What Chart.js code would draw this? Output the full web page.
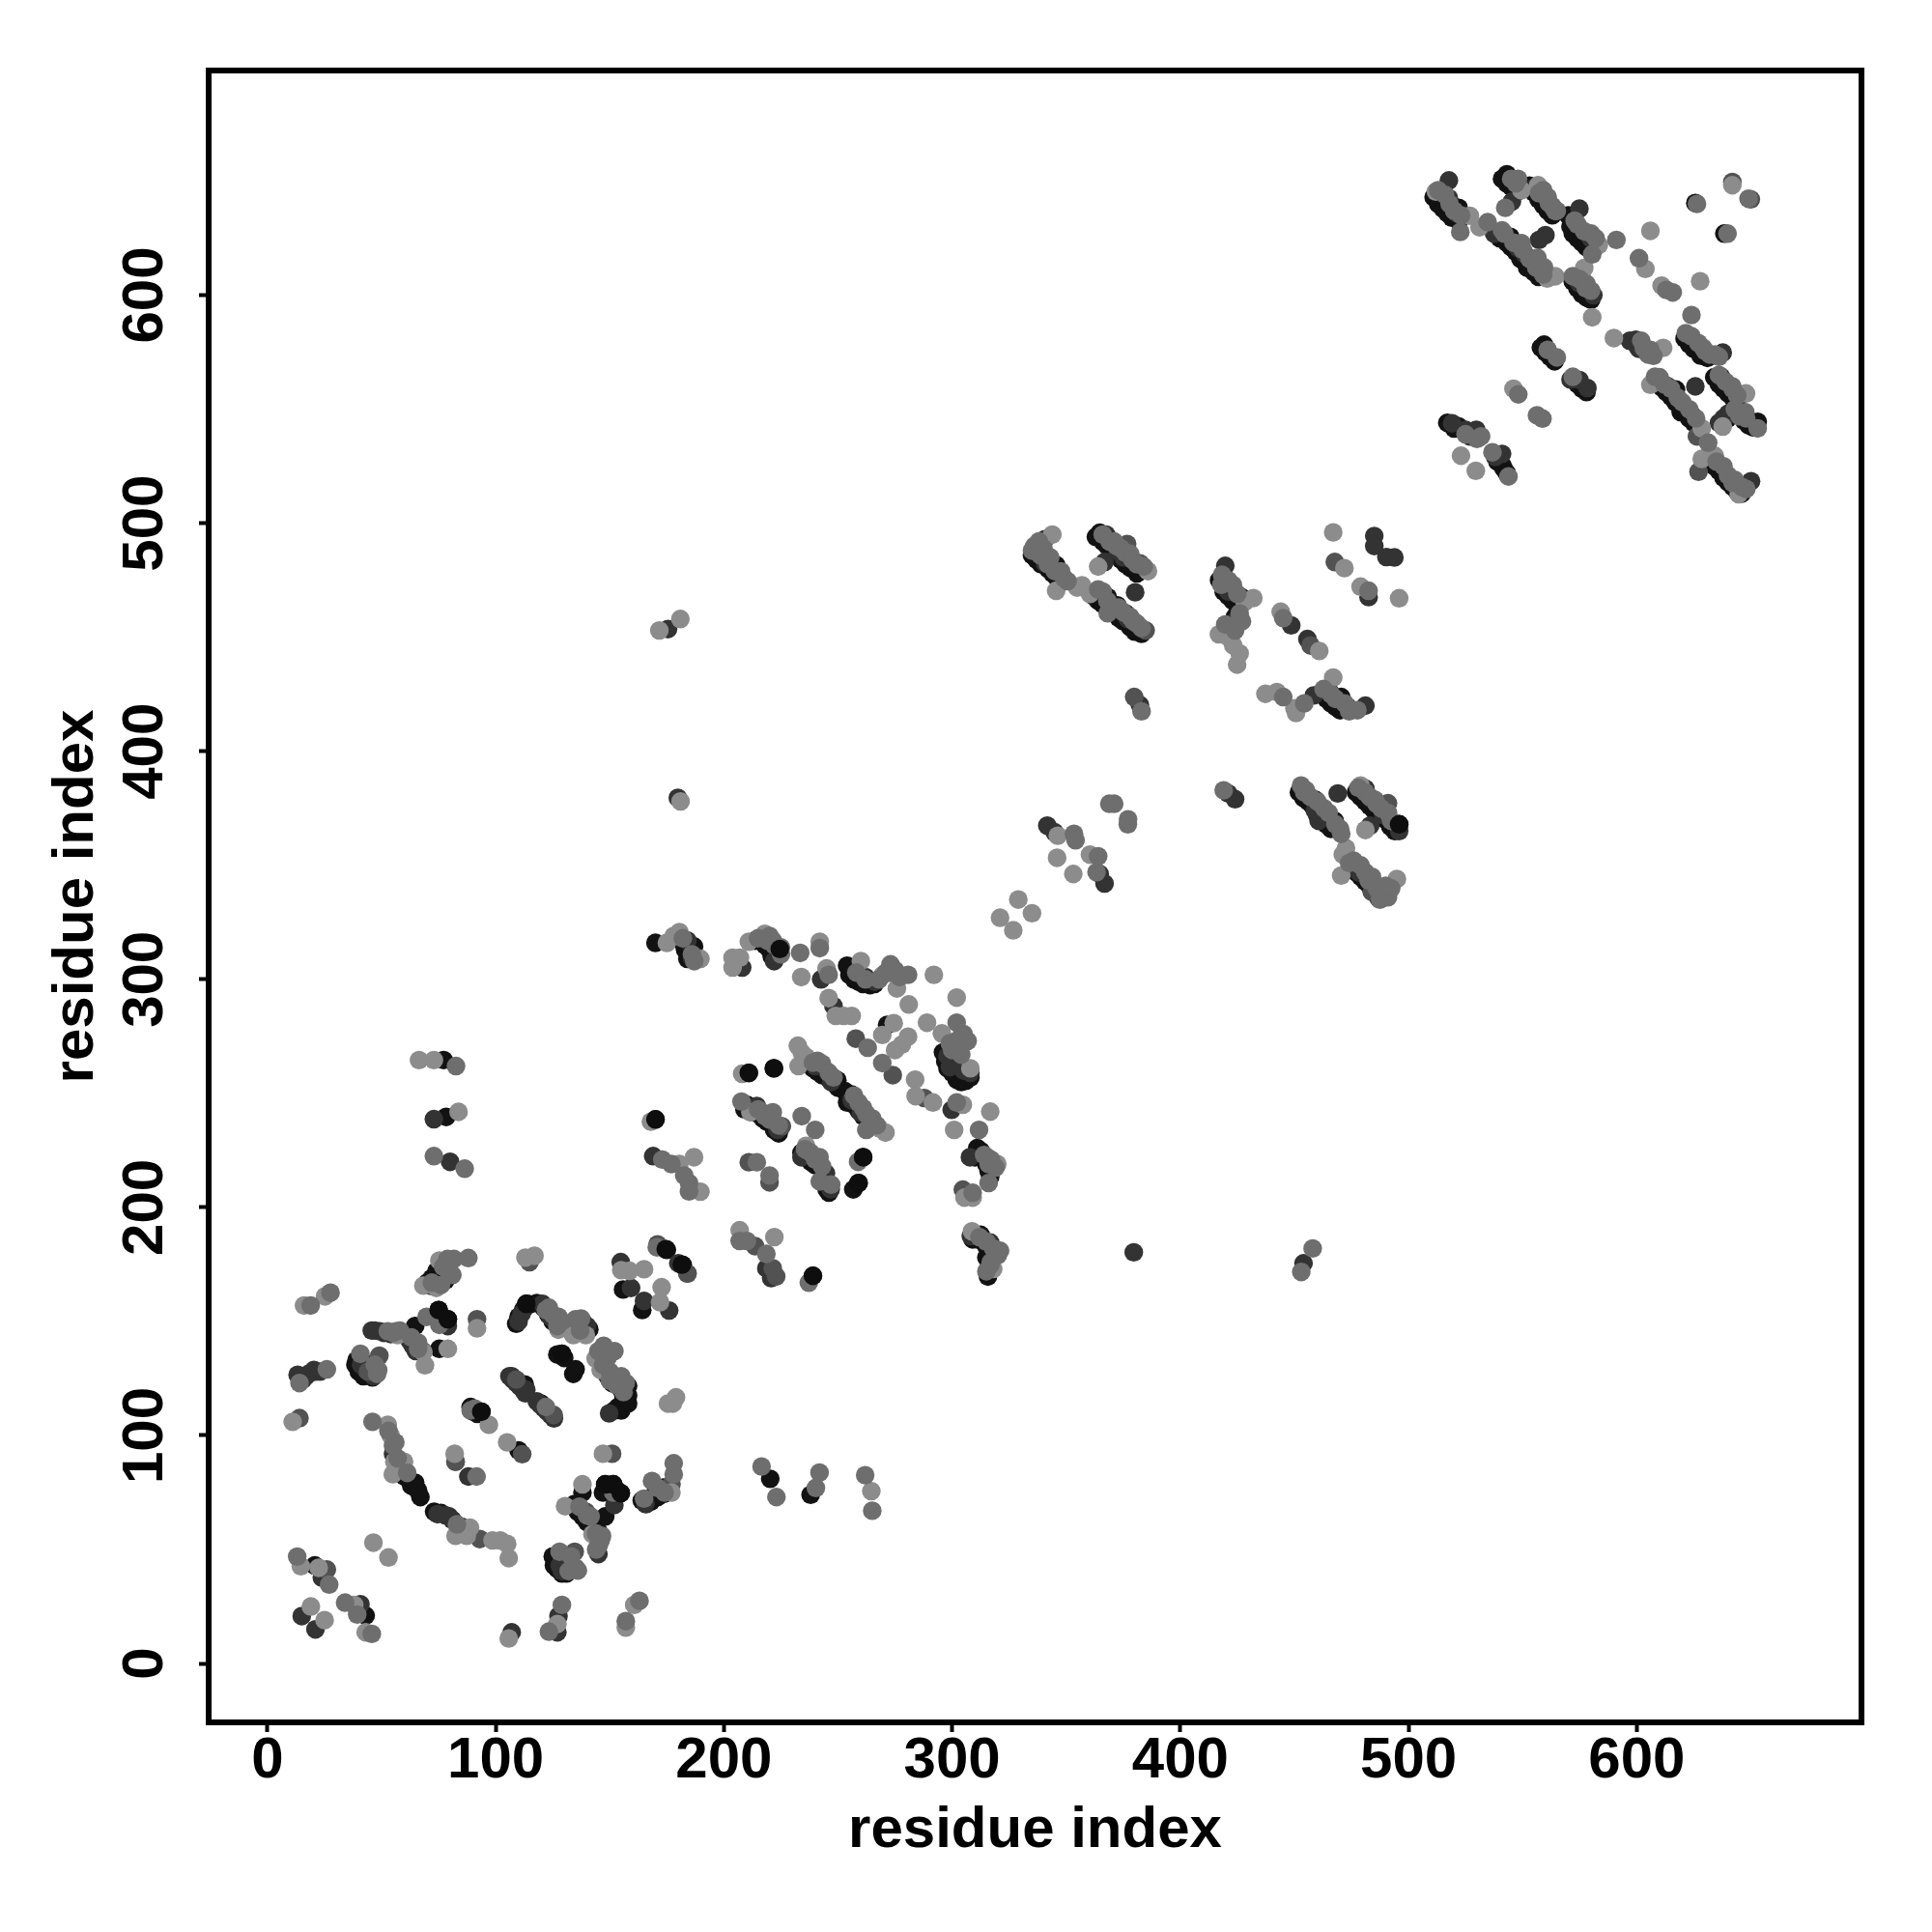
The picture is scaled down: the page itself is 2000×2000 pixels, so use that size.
<!DOCTYPE html>
<html>
<head>
<meta charset="utf-8">
<style>body{margin:0;background:#fff}canvas{display:block}</style>
<script src="https://cdn.jsdelivr.net/npm/chart.js@4"></script>
</head>
<body>
<canvas id="contactMap" width="2000" height="2000"></canvas>
<script>
// ===== DATA: [residue i, residue j], grouped by grey level =====
const tickValues = [0, 100, 200, 300, 400, 500, 600];
const axisLabel = "residue index";

const lightPoints = [
  [75.3,176.7],[68.3,165.7],[74,164.7],[117,178.8],[113,178],[155,172.5],[158.6,172.2],[165,172.9],[172.7,165],[172,158.4],
  [16,157],[25.2,161],[57,144],[75.3,151.3],[68.3,136.5],[69,130.8],[79,138],[91.8,147],[11,106],[52.7,104.7],[54,100],
  [55.6,88.5],[59.8,88.5],[54.9,83],[82.4,56],[88.7,59.6],[87.3,56],[98.6,54],[102,54],[105,52.5],[105.7,46.2],[46.4,53],
  [53,46.5],[97,104.7],[105,97],[127.5,146.4],[134,144],[139.5,144],[143.8,133.7],[146,128.7],[175.5,114],[179,116.7],
  [177.6,114],[147,92],[138,78.6],[130.4,69],[142.4,56.7],[177,75],[14.6,42.7],[22.4,42],[38,25.7],[43,13.7],[19,25],[25,19],
  [105.7,11],[127,17.3],[160.7,25.7],[157,15.8],[82,92],
  [178,319],[175,316],[203.8,309.5],[203.8,305.2],[207,309.5],[189.7,309],[180.5,320.7],[210.9,316.5],[217.9,320],[242,316.5],
  [233.9,301],[245,304.8],[245.9,291.8],[249,284],[252.5,284],[256,284],[260,308],[269.4,301.7],[275.8,296],[292,302],[281,289],
  [302,292],[289,281],[295.5,276.3],[274.4,280.8],[269.4,275.6],[280.7,274.9],[278,271.4],[275,269],[283.8,256],[284,248.8],
  [291.6,246],[304.7,245],[316.7,242],[300.9,234],[308,261],[232.4,270.9],[234.1,267.8],[232.7,262],[268,234.7],[270.8,232.8],
  [208,258.6],[211.6,241.7],[186.9,222],[180.5,219],[189.7,206.9],[319.8,219],[305.4,204.3],[309,204.3],[206.9,190],[222.1,187],
  [308.7,189.5],[318,173],[168,237.6],[66.4,264.6],[72.9,264.6],[83.7,241.9],[264.6,75.6],[180.9,458],[171.7,453],[181,378],
  [343.9,495],[345.6,470.4],[354.8,471.8],[356.9,472.8],[360.4,469],[385.8,479],[364,481],
  [432,467.2],[428.2,465.5],[416.9,451.3],[421.1,450],[423.2,446.4],[426,442.9],[424.9,438],[444,461.2],[460.9,444],
  [437.3,425.2],[442.3,426],[450,418.9],[450.7,416.8],[467,432.3],[467,496],[471.9,480.3],[479,472.2],[495.9,467.1],
  [472.6,357.5],[471.2,354.7],[470.5,345.5],[494.9,344],[479,385],[481.1,365.5],[346.3,363],[346,353.3],[353.1,346.2],[360.4,354.7],
  [329,335],[335,329],[321,327],[326.8,321.5],
  [512,645.4],[526.9,634.8],[531.1,629.8],[560.8,607.3],[564.3,608.3],[549.5,646],[556.8,648.2],[583.4,622],[577,611.9],
  [606,628.2],[603.8,611.5],[610.9,604.2],[627.8,606.1],[641.9,648.2],[580.5,590.3],[590,581.2],[611.6,576.9],[546,559],
  [523,529.6],[529.5,523],[606,560.7],[628.5,541.6],[634.2,529.6],[628.5,528.2],[644.7,512.7],[647.9,556.9],[637.7,542.4],
  [236,227],[236,266]
];

const midPoints = [
  [81.7,177.4],[88,177.8],[78.9,177.4],[81,170.4],[18.9,157],[27.6,162.6],[52.7,145.7],[56.3,145.7],[69.7,152],[66,140.7],
  [75.3,148.5],[40.7,135.8],[48.5,128.7],[14,123],[26,129],[46,106],[55,95.6],[61.2,83.6],[83,61],[90.8,111.8],[91.6,82],
  [122,112.5],[123.3,156],[127.5,152],[137.4,151.3],[147.3,139.3],[152,137],[148.7,136.5],[150,128],[157,123],[136.7,68.8],
  [141.6,64.5],[151.5,75],[146.6,56],[145.2,52],[165,72.3],[168.5,80],[178,83],[178,87.8],[128,49],[132,40.5],[136,40.8],
  [13,46.9],[27,34.6],[34,26.7],[39.3,21.5],[45.7,13],[123.3,14],[129,25.7],[163,27.5],[157,18.6],
  [221.4,317],[225,311],[233.4,311.6],[242,313.7],[245.9,302],[273,306.6],[273,303],[280.7,302],[302,281],[263,270],[269.4,263.3],
  [302,246],[311.8,234],[302.6,273.5],[306.8,273],[301,270],[241,264.3],[262.4,241],[262.4,234],[207.7,246.4],[221.4,241.7],[234.1,240],
  [240,234],[235.5,225.5],[241.9,222],[242,211.4],[258.8,220],[214.4,219.8],[220,214],[182.6,214],[184.7,210.7],[184.7,207],
  [315.3,222],[316,210.7],[309,206.4],[206.9,185.3],[210.1,185.3],[218.6,179.6],[237.2,167],[321,181],[316.7,174.7],
  [82.6,262],[72.9,222.5],[86.4,217],[173,221],[177,219],[170.6,182.5],[453,171.7],[458,182],[216.5,86.4],[223,73],[240.3,77],[241.9,83.7],
  [261.9,82.6],[265,67],[338.6,486],[335,488],[347.7,478.9],[350.6,474.6],[364,471],[368.2,460.5],[379.5,457],[371,492],[378,486.6],
  [383,417.5],[418.3,477.4],[426,460.5],[419.7,455.6],[445.1,458.4],[445.1,423.8],[454.3,421],[462.8,427.3],[477.6,418],
  [482.5,470.4],[419,382.9],[452.9,385],[454.3,382],[470.5,363.8],[474,351],[482.5,343.4],[487.5,334.9],[492.4,339.9],[485.3,378.7],
  [492.4,369.5],[353.4,363.8],[354.1,361],[364,354],[363.3,347],[368.9,377],[371,377],[377.1,370.2],[377,368],
  [534.7,632],[541,628.4],[549.5,622.8],[556.5,616.4],[559.4,612.2],[548,651],[542.4,638.3],[557.2,644.7],[561.5,640.4],[564.3,636.9],
  [522.7,627.7],[572.8,632.7],[580.5,617.9],[591.1,624.2],[572,608.3],[577.7,603],[601,616.2],[613,602.3],[615.8,601.2],[626.4,640],
  [639.8,627],[649,642.3],[624,591.3],[603.1,576.9],[607.3,573.4],[621.5,583.3],[630,575.5],[634.2,574],[565,572.7],[572,564.2],
  [548.1,556.5],[556.3,547.3],[558.7,545.9],[531.8,538.1],[536.8,531.1],[543.8,520.5],[608,564.2],[631.3,535.3],[642,517.7],
  [641.9,560],[647.6,548.7],[653,541.6],
  [77,174],[79,172.5],[72,167],[76,166],[47,131],[48,127],[55,145],[58,146],[63,143],[66,138],[57,90],[56,97],[53,102],[89,111],
  [122,155],[125,153],[129,150],[127,148],[135,151],[137,146],[145,137],[149,134],[147,131],[150,124],[153,122],[156,119],[155,126],
  [133,47],[135,42],[140,65],[144,57],[146,54],[144,50],[171,77],[174,75],
  [239,263.5],[243,263],[246,259],[248,257],[257,249],[259,246],[261,243.5],[265,239],[267,236],[215,243],[218,240],[220,238.5],[224,236],
  [238,224],[240,221],[243,218],[247,210],[258,303],[262,300],[268,300],[271,303],[275,304],[277,301],[300,269],[304,267],[303,272],[305,276],[299,272],
  [314,223],[317,221],[319,217.5],[316,219],[318,182],[320,179],[317,176],[315,172],[312,187],[315,185],[215,318],[219,317],[222,315],[225,314],[220,319],
  [182,318],[186,311],[187,308],
  [336,490],[338,492],[340,489],[343,485],[342,482],[345,479],[349,476],[366,470],[368,466],[373,463],[375,461],[378,459],[381,456],[383,454],
  [366,495],[369,492],[372,490],[374,489],[376,487],[379,484],[381,482],[384,481],[418,473],[421,475],[423,473],[425,469],[427,457],[424,453],
  [466,425],[468,423],[472,421],[474,417.5],[455,383],[457,380],[460,378],[463,375],[465,373],[468,368],[470,366],[478,384],[481,382],[483,380],[486,377],[488,375],[491,373],
  [476,352],[479,350],[481,347],[484,345],[486,340],[489,337],[491,336],[490,341],
  [513,646],[516,644],[518,640],[520,637],[523,635],[542,627],[546,623],[550,620],[553,616],[556,612],[559,609],[545,651],[547,649],[559,646],[561,643],[563,639],[565,637],
  [574,631],[577,628],[580,627],[582,625],[575,607],[578,605],[580,602],[602,580],[605,574],[606,576],[624,582],[627,579],[629,577],[632,574],[636,573],
  [610,564],[612,561],[615,559],[618,555],[620,553],[623,550],[626,546],[635,527],[638,525],[640,521],[643,519],[646,516],[648,515],
  [636,565],[639,562],[642,559],[644,556],[643,550],[645,547],[648,546],[525,539],[530,537],[561,576]
];

const midDarkPoints = [
  [114.8,176],[170.9,183.8],[184,171],[14,107.6],[49,135],[91.8,151],[109,124.5],[125.4,109],[82.4,88.5],[111.6,91.8],
  [93,54.6],[151,92],[139.5,66.6],[134.6,49],[26,41.2],[177,78.6],[44,128],
  [257.8,274],[274,258],[287.8,248],[237.7,264.3],[264.5,238],[225.4,235.6],[210.9,219.8],[220,211],[304.7,207.8],[213.7,183],
  [221.4,173.3],[222.9,169.7],[184,171],[384.8,453],[376.7,490.9],[382.3,482.4],[379.8,423.8],[457.1,446.4],[473.3,419.6],
  [467.7,483],[483.9,338.4],[491,377.2],[641.9,649.6],[650,642],[627.1,522.6],[626.4,538.1]
];

const darkPoints = [
  [154.8,176],[159.3,164.7],[165,159],[176,154.8],[70.4,166],[45.7,146],[49.2,145.7],[79,148],[63.3,140],[42,132.3],[46.4,126],
  [13.2,126.6],[16.8,126],[20.3,128.7],[55,92],[79.6,64.5],[107,126],[113.4,120],[88,82],[82.4,88.5],[110,150],[111.3,153.4],
  [120.5,157.7],[124,152],[136,148],[140,148],[149.7,109.7],[152,69.5],[145,48],[165.6,70],[129,40.5],[23.8,37.7],[40.7,26],
  [15,20.8],[21,15],[107,13.7],[127.5,20.8],[127,13.7],
  [184,317],[186,309.5],[208,305.2],[222,308],[242.6,300],[248,288.3],[262,301],[266,299],[299.8,242.8],[298,266.4],[299,261.5],[308,259],
  [245.4,259.4],[257.4,246.7],[214.4,244.5],[218.6,241],[223.5,234],[234,222],[244.7,215],[246.8,208],[307.8,222],[316.7,184.6],[308.2,187.4],
  [218.6,173.3],[220.7,169],[72.9,238.7],[80,220],[169,222.5],[180,175.5],[175.5,453.6],[179.8,379.6],[379.6,180.3],[454,175.5],
  [340.7,493],[340.7,482.4],[367.5,495],[372.4,488],[366.8,483],[380.2,469.7],[382.3,420.3],[419.7,481.3],[419,472.5],[423.2,456.3],
  [448.6,455.2],[455.7,449.2],[458.5,424.5],[465.6,426],[481.1,420],[485,494.4],[485,490],[490.3,485.2],[493.8,485],[482.5,467.6],
  [421,381.5],[424,379],[469,381.5],[460.6,369.5],[464.2,371.6],[478.3,346.9],[481.1,383.6],[489.6,375],[483.2,367.4],[495.9,365],
  [341.7,367.4],[344.9,364.5],[364.7,346.2],[366.8,342],
  [517.7,650.3],[517.7,642.5],[537.5,627],[548,620.7],[560,626.3],[557.2,624.2],[545.3,641],[574.9,637.9],[579.8,624.9],[574.9,605.2],[581,600],
  [599.6,580.5],[637.7,574.8],[574.9,562.8],[578.4,559.3],[519.1,543.8],[529.7,541],[541,530.4],[613.7,560],[625.7,560],[650.1,518.4],[637,564.2],
  [106,126],[107.5,124.5],[109,123],[110.5,121.5],[112,120],[113,118.5],[118,115],[119.5,113.5],[121,112],[122.5,110.5],[124,109],[125.5,107.5],
  [41,131],[43,129],[14,125],[15.5,124.5],[18,127],[21,128],[23,128],[47,146],[51,145],[54,144.5],[62,142],[64,139],[65,137],[68,137],
  [74.5,65.5],[78,65],[81,63],[85,60],[128,43],[131,44],[240,262],[247,255],[256,247],[260,241.5],[299,267],[301,264],[303,262],[305,260],
  [370,464],[377,458],[368,494],[375,485],[421,470],[459,374],[463,371],[484,379],[489,372],[521,636],[551,618],[555,647],
  [597,580],[600,578],[601,576.5],[636,544],[638,546],[640,548],[525,541],[527,538],[538,529],[571,563]
];

const blackPoints = [
  [74.6,171.8],[76,169.7],[155.8,164],[174.5,181.7],[181.6,174.9],[164.2,155],[64.7,148],[75,155],[79,151],[75.3,138],[40,129.4],[44,126.6],
  [64.7,79.3],[66,75.8],[67,73],[73,66.6],[76,66],[93.7,110.4],[110,93.5],[112.7,122.4],[119.8,114],[113.4,157.7],[129,135.8],[153,125],
  [158,121.7],[158,114],[153.6,112.5],[138,75],[148,64.5],[148,78.6],[151.5,78.6],[154.8,74.7],[170,75],[173.4,77.2],[126,44.8],[20.7,43],[43,21],
  [170,316],[186.9,314.4],[213.7,317],[224.5,313.3],[256,304.5],[258,303],[271.5,280],[302,258],[304.7,256.5],[242.6,261.5],[249.7,255.8],
  [256,249.5],[260.2,243.8],[210.9,259],[221.9,261],[210.1,245],[239,220],[244.7,211.4],[261,222],[259,210.7],[256.7,207.9],[312.5,224.8],
  [316.7,213.5],[312.5,188],[315.7,169.7],[239,170],[182,174.7],[77.2,264.6],[78.3,239.7],[170,238.6],[175,181.4],[220.3,81],[238,74],
  [345.6,481.7],[368.2,467.6],[372.4,464],[376,460.5],[364.7,495.8],[423.2,471],[426.8,467.6],[470.5,423.8],[459.2,378.7],[461.3,375.8],
  [467.7,369.5],[495.9,368],
  [522,638.3],[544.6,625.6],[553.7,614.3],[543.1,653],[575.6,627.7],[625.7,640.4],[638.4,627],[625,579.7],[559.4,578.3],[522,542.4],[541.7,524],
  [617.2,558.6],[619.3,548.7],[624.3,547.3],[638.4,522.6],[639.8,545.9],[653,544.5],
  [70,167],[72,169],[74,172],[78,168],[72,165.5],[38.5,131],[40,128],[42,126],[46,125.5],[39,133],[58,85],[60,82],[62,80.5],[63,78],[65,77],
  [89,112.5],[90,110.5],[92,109.5],[109,149],[110,152],[112,155],[115,157.5],[118,158],[121,156],[123,153],[125,150],[128,149],[131,147.5],[133,146],
  [136,146],[138,150],[141,146.5],[127,135.5],[130,134],[134,127],[135,129],[155,120],[156,117],[158,117.5],[152,111],[155,111],[151,123],[149,126],
  [125,47],[125.5,43],[127,41.5],[129,39.5],[131,39.5],[134.5,70],[136,66.5],[138,64.5],[140,62],[143,60],[145,58],[164,71.5],[166,70],[168,71],[171,73],[174,74.5],
  [147,75],[150,76],[153,76],
  [235,265],[237,263],[239,261],[241,259.5],[243,258],[246,256.5],[248,254.5],[250,252.5],[253,251],[255,248.5],[257,245],[259,242.5],[261,240],[263,238],[254,246],
  [209,243],[212,243],[215,241],[217,239],[219,237.5],[222,234],[224,232.5],[234,224],[236,222],[238,220],[240,218.5],[243,212],[245,208],[246,206.5],
  [254,306],[255,302],[257,300],[259,299],[261,298],[264,297.5],[266,298],[296,268],[297,264],[298,261],[300,259],[302,256],[304,255],[306,255.5],[308,257],
  [310,222],[311,226],[313,224],[315,219],[316,216],[309,186],[311,186],[313,185.5],[315,183],[317,182],[315,178],[218,315],[220,313],[223,310.5],[221,310],
  [183,313],[185,311],[184,309],[182,316],
  [335,486],[337,484],[339,482],[342,480],[344,478],[346,476],[362,468],[364,466],[366,464.5],[369,462],[371,461],[373,458.5],[375,457],[378,454.5],[380,452.5],[383,451.5],
  [363,494],[366,492],[368,490],[370,488.5],[372,486],[374,484],[376,482],[378,480.5],[381,478],[417,475],[419,470],[421,468],[423,466],[425,464],[424,459],[422,454],
  [462,425],[464,423],[466,421],[468,419.5],[470,418],[452,382],[454,379.5],[456,378],[458,376],[460,372],[462,370],[464,368],[466,366],
  [477,382],[479,380],[481,378],[483,376],[485,374],[487,372],[490,370],[492,367],[494,365],[475,349],[477,347],[479,345],[481,343],[483,341],[485,338],[487,335.5],
  [511,643],[513,640],[515,638],[517,636],[519,634],[522,632.5],[540,625],[543,623],[545,621],[547,619],[549,616],[552,612],[555,610],[557,608],
  [541,651],[543,649],[545,647.5],[547,645],[553,648],[555,645],[557,642],[559,639.5],[561,637],[563,635],[570,635],[571,630],[572,627],[574,625],[576,623],[578,621],[580,620],
  [572,606],[574,603],[576,600.5],[578,599],[580,598],[621,581],[623,578.5],[625,576.5],[628,573.5],[631,572.5],
  [609,562],[611,559.5],[613,557.5],[615,555.5],[617,553],[619,551],[621,549],[623,546],[625,544],[632,527],[634,525],[636,523],[638,520],[640,518],[642,516],[644,514],[646,513],
  [634,564],[636,561],[638,559],[640,557],[642,555],[644,553.5],[647,545],[649,543],[651,542],[517,544],[520,541.5],[539,527],[541,525.5],[543,522],
  [558,577],[560,575],[562,573],[564,571],[574,561],[576,559],[578,557.5]
];

// the few black dots that sit on top of everything else
const topPoints = [
  [174.5,181.7],[79,151],[181.6,174.9],[93.7,110.4],[224.5,313.3],[210.9,259],[221.9,261],[261,222],[259,210.7],[495.9,368],[239,170],
  [154.8,74.7],[148,78.6],[151.5,78.6],[129,135.8],[113.4,157.7],[75,155],[170,238.6]
];

// ===== CHART HELPERS =====
const toXY = pts => pts.map(([x, y]) => ({ x, y }));

function dots(data, color) {
  return {
    data: toXY(data),
    showLine: false,
    pointRadius: 9.7,
    pointHoverRadius: 9.7,
    pointBorderWidth: 0,
    pointBackgroundColor: color
  };
}

function axis(pos) {
  return {
    type: "linear",
    position: pos,
    min: -25.8,
    max: 698.5,
    afterBuildTicks: s => { s.ticks = tickValues.map(value => ({ value })); },
    grid: { display: true, drawOnChartArea: false, tickLength: 10, tickWidth: 4, tickColor: "#000", color: "#000" },
    border: { display: false },
    title: { display: true, text: axisLabel, color: "#000", font: { family: "Liberation Sans", weight: "bold", size: 60 }, padding: 0 },
    ticks: { color: "#000", font: { family: "Liberation Sans", weight: "bold", size: 60 }, padding: 4, autoSkip: false }
  };
}

const xAxis = axis("bottom");
xAxis.afterFit = s => { s.height = 217; };
xAxis.ticks.maxRotation = 0;
xAxis.ticks.padding = -6;
xAxis.title.padding = { top: 0, bottom: 69 };

const yAxis = axis("left");
yAxis.afterFit = s => { s.width = 216; };
yAxis.ticks.minRotation = 90;
yAxis.ticks.maxRotation = 90;
yAxis.ticks.crossAlign = "center";
yAxis.title.padding = { top: 43, bottom: 0 };

// box round the plot
const frame = {
  id: "frame",
  afterDraw(chart) {
    const a = chart.chartArea, c = chart.ctx;
    c.save();
    c.strokeStyle = "#000";
    c.lineWidth = 6;
    c.strokeRect(a.left, a.top, a.right - a.left, a.bottom - a.top);
    c.restore();
  }
};

// chart.js paints the first dataset last, so the list runs top layer first
new Chart(document.getElementById("contactMap"), {
  type: "scatter",
  data: {
    datasets: [
      dots(topPoints, "#0e0e0e"),
      dots(midPoints, "#6e6e6e"),
      dots(lightPoints, "#8c8c8c"),
      dots(midDarkPoints, "#525252"),
      dots(darkPoints, "#333333"),
      dots(blackPoints, "#121212")
    ]
  },
  options: {
    responsive: false,
    animation: false,
    layout: { padding: { top: 73, right: 73, left: 0, bottom: 0 } },
    plugins: { legend: { display: false }, tooltip: { enabled: false } },
    scales: { x: xAxis, y: yAxis }
  },
  plugins: [frame]
});
</script>
</body>
</html>
